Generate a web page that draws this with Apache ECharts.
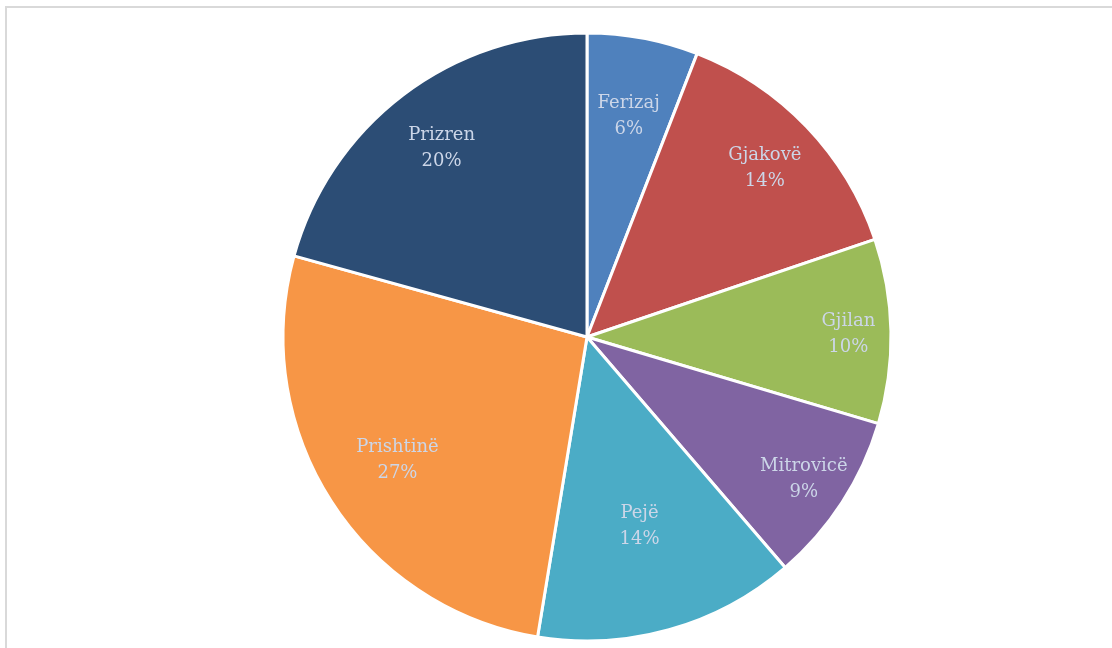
<!DOCTYPE html>
<html>
<head>
<meta charset="utf-8">
<script src="https://cdn.jsdelivr.net/npm/echarts@6/dist/echarts.min.js"></script>
<style>
html,body{margin:0;padding:0;background:#fff;}
#chart{width:1112px;height:648px;}
</style>
</head>
<body>
<div id="chart"></div>
<script>
const categories = ['Ferizaj', 'Gjakovë', 'Gjilan', 'Mitrovicë', 'Pejë', 'Prishtinë', 'Prizren'];
const values = [5.9, 13.9, 9.8, 9.1, 13.9, 26.7, 20.7];
const colors = ['#4F81BD', '#C0504D', '#9BBB59', '#8064A2', '#4BACC6', '#F79646', '#2C4D75'];

// label placement style: fraction of radius at which each label sits
const labelRadiusFrac = [0.735, 0.80, 0.85, 0.84, 0.63, 0.73, 0.78];

const chart = echarts.init(document.getElementById('chart'), null, {renderer: 'canvas'});
const R = 304;
const center = [587, 337];
const baseFrac = 0.8;

const total = values.reduce((a, b) => a + b, 0);
let cum = 0;
const pieData = categories.map((c, i) => ({
  name: c,
  value: values[i],
  itemStyle: {color: colors[i]}
}));
const labelData = categories.map((c, i) => {
  const mid = (cum + values[i] / 2) / total * Math.PI * 2;
  cum += values[i];
  const shift = (labelRadiusFrac[i] - baseFrac) * R;
  return {
    name: c,
    value: values[i],
    label: {offset: [shift * Math.sin(mid), -shift * Math.cos(mid) + 2]}
  };
});

chart.setOption({
  animation: false,
  backgroundColor: '#fff',
  graphic: [{
    type: 'rect',
    shape: {x: 6, y: 7, width: 1200, height: 700},
    style: {fill: 'none', stroke: '#d9d9d9', lineWidth: 2},
    silent: true,
    z: 0
  }],
  series: [{
    type: 'pie',
    center: center,
    radius: [0, R],
    startAngle: 90,
    clockwise: true,
    label: {show: false},
    labelLine: {show: false},
    itemStyle: {borderColor: '#ffffff', borderWidth: 3},
    emphasis: {disabled: true},
    data: pieData,
    z: 2
  }, {
    type: 'pie',
    center: center,
    radius: [R * (2 * baseFrac - 1), R],
    startAngle: 90,
    clockwise: true,
    silent: true,
    itemStyle: {color: 'rgba(0,0,0,0)', borderWidth: 0},
    label: {
      show: true,
      position: 'inside',
      formatter: '{b}\n{d}%',
      color: '#ccd6e8',
      fontFamily: 'DejaVu Serif',
      fontSize: 18,
      lineHeight: 26
    },
    labelLine: {show: false},
    emphasis: {disabled: true},
    percentPrecision: 0,
    data: labelData,
    z: 3
  }]
});
</script>
</body>
</html>
